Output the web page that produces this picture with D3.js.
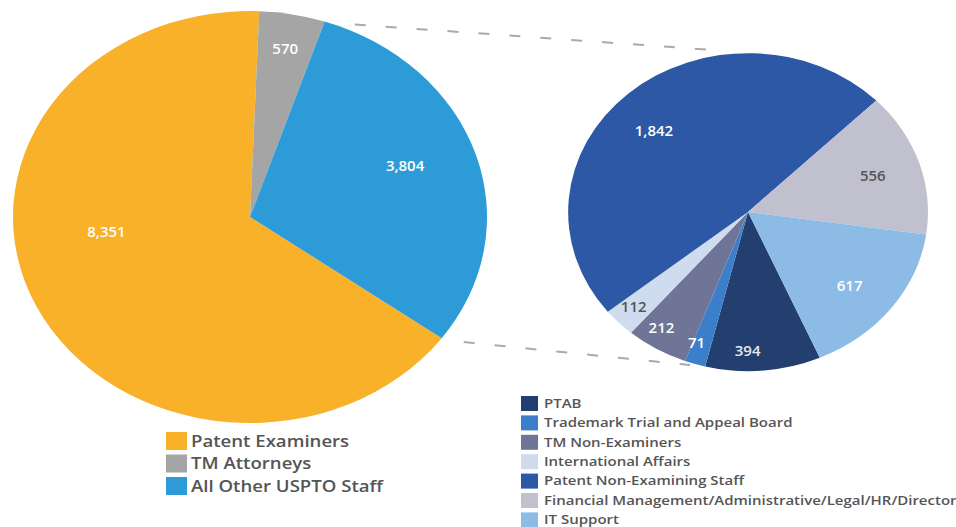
<!DOCTYPE html>
<meta charset="utf-8">
<style>
body { margin: 0; background: #fff; }
svg { display: block; font-family: "Open Sans", sans-serif; }
.val { font-size: 15px; font-weight: 600; text-anchor: middle; }
.leg text { fill: #555; font-weight: 600; }
.link { fill: none; stroke: #aaa; stroke-width: 2; stroke-dasharray: 11 20; }
</style>
<body>
<svg width="956" height="527"></svg>
<script src="https://cdn.jsdelivr.net/npm/d3@7"></script>
<script>

// main staff split
var staffNames = ["Patent Examiners", "TM Attorneys", "All Other USPTO Staff"];
var staffValues = [8351, 570, 3804];
var staffColors = ["#f9b12a", "#a5a5a5", "#2e9bd9"];

// breakdown of "All Other USPTO Staff" (legend order, also clockwise order)
var otherNames = ["PTAB", "Trademark Trial and Appeal Board", "TM Non-Examiners",
  "International Affairs", "Patent Non-Examining Staff",
  "Financial Management/Administrative/Legal/HR/Director", "IT Support"];
var otherValues = [394, 71, 212, 112, 1842, 556, 617];
var otherColors = ["#233f70", "#3b7fcb", "#6f7597", "#cfdbee", "#2c58a5", "#c0c0cf", "#8cbce6"];
var otherLabelColors = ["#e8e8ee", "#fff", "#fff", "#555", "#fff", "#555", "#fff"];

var svg = d3.select("svg");
var deg = Math.PI / 180;
var fmt = d3.format(",");

function drawPie(opt) {
  var pie = d3.pie().sort(null)
      .startAngle(opt.start * deg)
      .endAngle(opt.start * deg + 2 * Math.PI);
  var arcs = pie(opt.values);
  var arc = d3.arc().innerRadius(0).outerRadius(1);

  var g = svg.append("g")
      .attr("transform", "translate(" + opt.cx + "," + opt.cy + ") scale(" + opt.rx + "," + opt.ry + ")");
  g.selectAll("path")
    .data(arcs)
    .enter().append("path")
      .attr("d", arc)
      .attr("fill", function(d, i) { return opt.colors[i]; });

  svg.append("g").selectAll("text")
    .data(arcs)
    .enter().append("text")
      .attr("class", "val")
      .attr("dy", "0.35em")
      .attr("fill", function(d, i) { return opt.labelColors[i]; })
      .attr("x", function(d, i) {
        var a = (d.startAngle + d.endAngle) / 2 + (opt.nudge[i] || 0) * deg;
        return opt.cx + Math.sin(a) * opt.labelR(d, i) * opt.rx;
      })
      .attr("y", function(d, i) {
        var a = (d.startAngle + d.endAngle) / 2 + (opt.nudge[i] || 0) * deg;
        return opt.cy - Math.cos(a) * opt.labelR(d, i) * opt.ry;
      })
      .text(function(d) { return fmt(d.value); });
  return arcs;
}

var mainArcs = drawPie({
  cx: 250, cy: 217, rx: 237, ry: 206, start: 126,
  values: staffValues, colors: staffColors,
  labelColors: ["#fff", "#fff", "#fff"],
  nudge: [19, 0, -3],
  labelR: function(d, i) { return [0.61, 0.83, 0.7][i]; }
});

drawPie({
  cx: 748, cy: 212, rx: 180, ry: 159, start: 156.5,
  values: otherValues, colors: otherColors,
  labelColors: otherLabelColors,
  nudge: [5, 2, 3, 1, -4, 0, 2],
  labelR: function(d) { return (d.endAngle - d.startAngle) < 45 * deg ? 0.87 : 0.73; }
});

// dashed connectors from the "other" slice edges to the breakdown pie
var blue = mainArcs[2];
function edge(a, r) { return [250 + Math.sin(a) * 237 * r, 217 - Math.cos(a) * 206 * r]; }
var p1 = edge(blue.startAngle, 1.0), p2 = edge(blue.endAngle, 1.0);
svg.append("line").attr("class", "link")
    .attr("x1", p1[0] + 30).attr("y1", p1[1] + 3).attr("x2", 713).attr("y2", 50);
svg.append("line").attr("class", "link")
    .attr("x1", p2[0] + 22).attr("y1", p2[1] + 4).attr("x2", 690).attr("y2", 365);

// legends (text is stretched sideways like the source image)
var leg1 = svg.append("g").attr("class", "leg").attr("transform", "translate(166,432)");
var r1 = leg1.selectAll("g").data(staffNames).enter().append("g")
    .attr("transform", function(d, i) { return "translate(0," + i * 22.5 + ")"; });
r1.append("rect").attr("width", 21).attr("height", 18)
    .attr("fill", function(d, i) { return staffColors[i]; });
r1.append("g").attr("transform", "translate(25,9) scale(1.2,1)")
  .append("text").attr("dy", "0.36em")
    .style("font-size", "15.5px").text(function(d) { return d; });

var leg2 = svg.append("g").attr("class", "leg").attr("transform", "translate(521,396)");
var r2 = leg2.selectAll("g").data(otherNames).enter().append("g")
    .attr("transform", function(d, i) { return "translate(0," + i * 19.4 + ")"; });
r2.append("rect").attr("width", 17).attr("height", 15)
    .attr("fill", function(d, i) { return otherColors[i]; });
r2.append("g").attr("transform", "translate(23,7.5) scale(1.25,1)")
  .append("text").attr("dy", "0.36em")
    .style("font-size", "12px").text(function(d) { return d; });

</script>
</body>
